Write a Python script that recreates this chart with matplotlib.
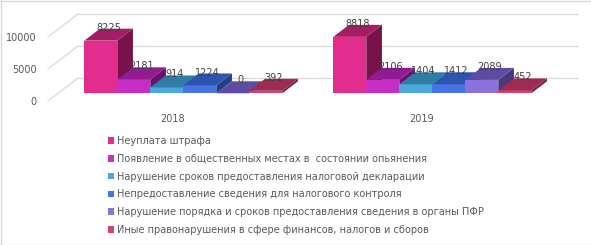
import matplotlib
matplotlib.use("Agg")
import matplotlib.pyplot as plt
from matplotlib.patches import Polygon, Patch

years = ["2018", "2019"]
series = [
    "Неуплата штрафа",
    "Появление в общественных местах в  состоянии опьянения",
    "Нарушение сроков предоставления налоговой декларации",
    "Непредоставление сведения для налогового контроля",
    "Нарушение порядка и сроков предоставления сведения в органы ПФР",
    "Иные правонарушения в сфере финансов, налогов и сборов",
]
values = [
    [8225, 8818],
    [2181, 2106],
    [914, 1404],
    [1224, 1412],
    [0, 2089],
    [392, 452],
]
yticks = [0, 5000, 10000]

front_c = ["#E32D8E", "#C62EC6", "#4BA8DD", "#4674E6", "#8B72DF", "#D6426F"]
top_c = ["#A71C66", "#911B93", "#2F7DA6", "#2D55AE", "#5E4CA4", "#9E2B52"]
side_c = ["#78124A", "#6A116B", "#235E7C", "#213F82", "#47397C", "#74203C"]

W_PX, H_PX = 591, 245
fig = plt.figure(figsize=(W_PX / 100, H_PX / 100), dpi=100)
plt.rcParams["font.family"] = ["DejaVu Sans"]

# plot area in pixels
left, right, top, bottom = 48, 578, 14, 101
ax = fig.add_axes([left / W_PX, 1 - bottom / H_PX, (right - left) / W_PX, (bottom - top) / H_PX])
px_per_cat = 249.0
px_per_val = 0.0064
ax.set_xlim((left - 172.5) / px_per_cat, (right - 172.5) / px_per_cat)
ax.set_ylim(0, (bottom - top) / px_per_val)
for s in ax.spines.values():
    s.set_visible(False)

DX = 30 / px_per_cat
DY = 23 / px_per_val
f0, f1 = 7.7 / 23, 19.7 / 23
bw = 33 / px_per_cat
grid_c = "#D9D9D9"

x_lo, x_hi = ax.get_xlim()
for v in yticks:
    ax.plot([x_lo + DX, x_hi], [v + DY, v + DY], color=grid_c, lw=0.9, clip_on=False, zorder=1)
    ax.plot([x_lo, x_lo + DX], [v, v + DY], color=grid_c, lw=0.9, clip_on=False, zorder=1)

ax.set_yticks(yticks)
ax.set_yticklabels([str(v) for v in yticks])
ax.set_xticks(range(len(years)))
ax.set_xticklabels(years)
ax.tick_params(axis="y", length=0, pad=8, labelsize=7, labelcolor="#595959")
ax.tick_params(axis="x", length=0, pad=9, labelsize=7, labelcolor="#595959")

z = 2
for i in range(len(years)):
    x_start = i - 3 * bw + 0.003
    for j in range(len(series)):
        v = values[j][i]
        x0 = x_start + j * bw
        xf = x0 + f0 * DX
        yb = f0 * DY
        ddx = (f1 - f0) * DX
        ddy = (f1 - f0) * DY
        front = Polygon([(xf, yb), (xf + bw, yb), (xf + bw, yb + v), (xf, yb + v)],
                        closed=True, fc=front_c[j], ec="none", clip_on=False, zorder=z)
        topf = Polygon([(xf, yb + v), (xf + bw, yb + v), (xf + bw + ddx, yb + v + ddy), (xf + ddx, yb + v + ddy)],
                       closed=True, fc=top_c[j], ec="none", clip_on=False, zorder=z)
        side = Polygon([(xf + bw, yb), (xf + bw, yb + v), (xf + bw + ddx, yb + v + ddy), (xf + bw + ddx, yb + ddy)],
                       closed=True, fc=side_c[j], ec="none", clip_on=False, zorder=z)
        for p in (side, front, topf):
            ax.add_patch(p)
        z += 1
        ax.text(xf + bw / 2 + ddx * 0.5, yb + v + ddy + 150, str(v), ha="center", va="center",
                fontsize=7, color="#404040", zorder=100, clip_on=False)

handles = [Patch(fc=c, ec="none") for c in front_c]
fig.legend(handles, series, loc="upper left", bbox_to_anchor=(108 / W_PX, 1 - 136 / H_PX),
           frameon=False, fontsize=7, labelcolor="#595959", borderpad=0, borderaxespad=0,
           handlelength=0.65, handleheight=0.65, handletextpad=0.3, labelspacing=0.8)

# chart frame
fig.add_artist(plt.Line2D([0.5 / W_PX, 1], [1 - 1.5 / H_PX, 1 - 1.5 / H_PX], color="#D9D9D9", lw=1))
fig.add_artist(plt.Line2D([1.5 / W_PX, 1.5 / W_PX], [0, 1], color="#D9D9D9", lw=1))
fig.add_artist(plt.Line2D([0, 1], [0.5 / H_PX, 0.5 / H_PX], color="#D9D9D9", lw=1))

fig.savefig("out.png", dpi=100)
